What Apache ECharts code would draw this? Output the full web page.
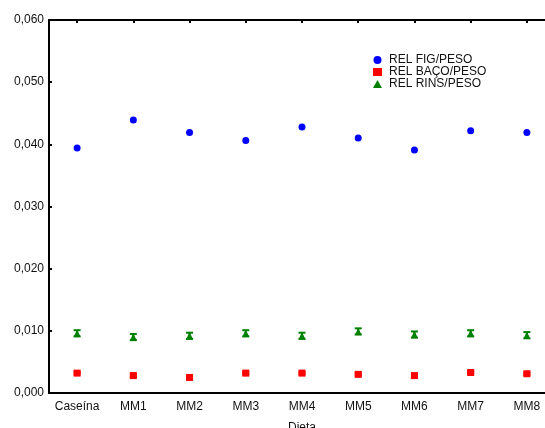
<!DOCTYPE html>
<html>
<head>
<meta charset="utf-8">
<script src="https://cdn.jsdelivr.net/npm/echarts@6/dist/echarts.min.js"></script>
<style>html,body{margin:0;padding:0;background:#fff}#c{width:545px;height:428px}</style>
</head>
<body>
<div id="c"></div>
<script>
const categories = ['Caseína','MM1','MM2','MM3','MM4','MM5','MM6','MM7','MM8'];
const yTicks = [0, 0.01, 0.02, 0.03, 0.04, 0.05, 0.06];
const figPeso = [0.0394, 0.0439, 0.0419, 0.0406, 0.0428, 0.0410, 0.0391, 0.0422, 0.0419];
const bacoPeso = [0.0032, 0.0028, 0.0025, 0.0032, 0.0032, 0.0030, 0.0028, 0.0033, 0.0031];
const bacoErr = [0.0002, 0.0002, 0.0002, 0.0002, 0.0002, 0.0002, 0.0002, 0.0002, 0.0002];
const rinsPeso = [0.0096, 0.0090, 0.0092, 0.0096, 0.0092, 0.0099, 0.0094, 0.0096, 0.0093];
const rinsErr = [0.0005, 0.0005, 0.0005, 0.0005, 0.0005, 0.0005, 0.0005, 0.0005, 0.0005];

const FONT = 'Liberation Sans';
const chart = echarts.init(document.getElementById('c'), null, {renderer:'canvas'});

function errData(vals, errs){
  return vals.map((v,i)=>[i, v - errs[i], v + errs[i]]);
}
function errSeries(vals, errs, color){
  return {
    type:'custom', silent:true, z:1,
    data: errData(vals, errs),
    renderItem: function(params, api){
      const lo = api.coord([api.value(0), api.value(1)]);
      const hi = api.coord([api.value(0), api.value(2)]);
      const hw = 3.5;
      const st = {stroke: color, lineWidth: 2};
      return {type:'group', children:[
        {type:'line', shape:{x1:lo[0], y1:lo[1], x2:hi[0], y2:hi[1]}, style:st},
        {type:'line', shape:{x1:lo[0]-hw, y1:lo[1], x2:lo[0]+hw, y2:lo[1]}, style:st},
        {type:'line', shape:{x1:hi[0]-hw, y1:hi[1], x2:hi[0]+hw, y2:hi[1]}, style:st}
      ]};
    }
  };
}

chart.setOption({
  animation:false,
  backgroundColor:'#fff',
  textStyle:{fontFamily:FONT},
  grid:{left:49, width:506, top:20, height:373, containLabel:false, outerBoundsMode:'none'},
  legend:{
    orient:'vertical', left:368, top:49, itemGap:0, itemWidth:9, itemHeight:8,
    textStyle:{fontFamily:FONT, fontSize:12, lineHeight:11, color:'#111', padding:[0,0,0,2]},
    data:[
      {name:'REL FIG/PESO', icon:'circle'},
      {name:'REL BAÇO/PESO', icon:'rect'},
      {name:'REL RINS/PESO', icon:'triangle'}
    ]
  },
  xAxis:[{
    type:'category', data:categories, boundaryGap:true,
    name:'Dieta', nameLocation:'middle', nameGap:29,
    nameTextStyle:{fontFamily:FONT, fontSize:12, color:'#111'},
    axisLine:{lineStyle:{color:'#000', width:2}},
    axisTick:{alignWithLabel:true, inside:true, length:3, interval:0, lineStyle:{color:'#000', width:2}},
    axisLabel:{fontFamily:FONT, fontSize:12, color:'#111', margin:8, interval:0},
    splitLine:{show:false}
  },{
    type:'category', data:categories, boundaryGap:true, position:'top',
    axisLine:{show:true, lineStyle:{color:'#000', width:2}},
    axisTick:{show:true, alignWithLabel:true, inside:true, length:3, interval:0, lineStyle:{color:'#000', width:2}},
    axisLabel:{show:false, interval:0}, splitLine:{show:false}
  }],
  yAxis:{
    type:'value', min:0, max:0.06, interval:0.01,
    axisLine:{show:true, lineStyle:{color:'#000', width:2}},
    axisTick:{show:true, inside:true, length:3, lineStyle:{color:'#000', width:2}},
    axisLabel:{fontFamily:FONT, fontSize:12, color:'#111', margin:5,
      formatter: v => { const t = yTicks.find(x=>Math.abs(x-v)<1e-9); return (t!==undefined?t:v).toFixed(3).replace('.', ','); }},
    splitLine:{show:false}
  },
  series:[
    {name:'REL FIG/PESO', type:'scatter', data:figPeso, symbol:'circle', symbolSize:7,
      itemStyle:{color:'#0000ff', opacity:1}, z:3},
    {name:'REL BAÇO/PESO', type:'scatter', data:bacoPeso, symbol:'rect', symbolSize:7,
      itemStyle:{color:'#ff0000', opacity:1}, z:3},
    {name:'REL RINS/PESO', type:'scatter', data:rinsPeso, symbol:'triangle', symbolSize:7,
      itemStyle:{color:'#008000', opacity:1}, z:3},
    errSeries(bacoPeso, bacoErr, '#ff0000'),
    errSeries(rinsPeso, rinsErr, '#008000')
  ]
});
</script>
</body>
</html>
